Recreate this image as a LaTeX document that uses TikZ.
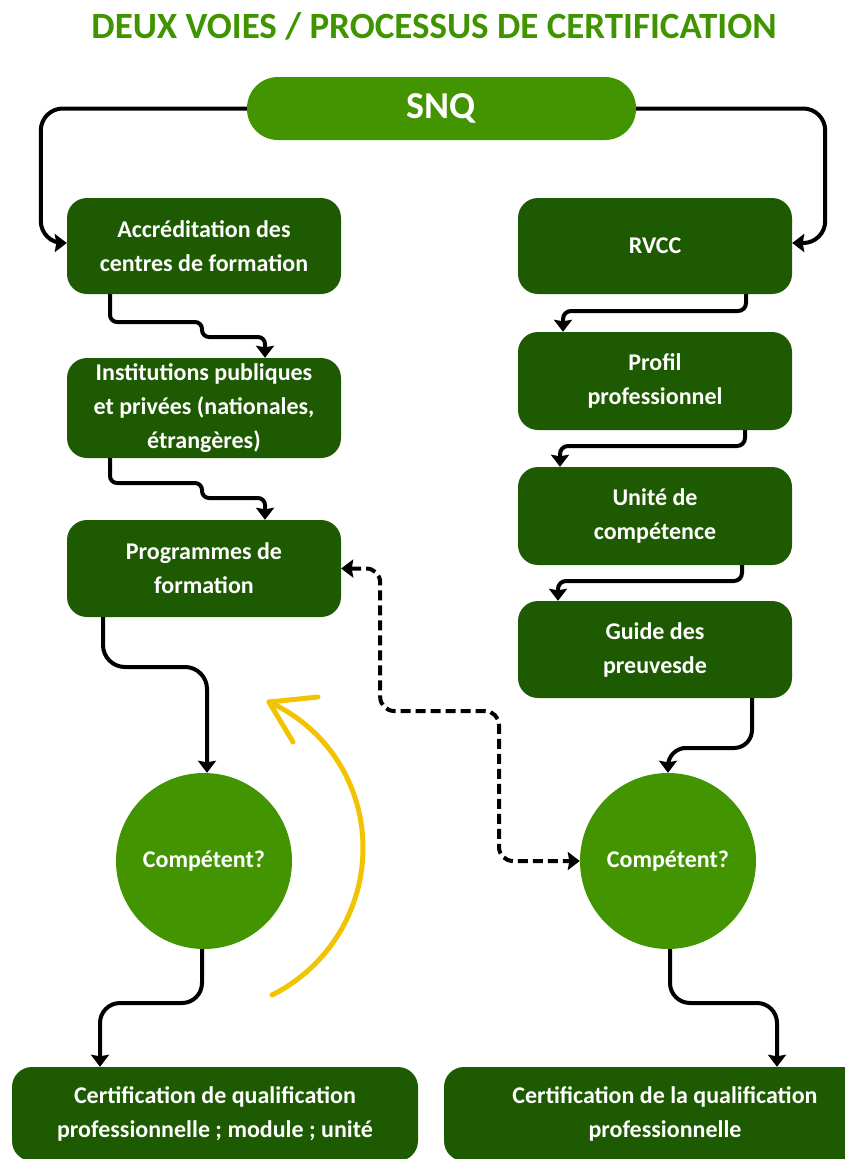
\documentclass[tikz,border=0pt]{standalone}
\usepackage{fontspec}
\setmainfont{Carlito}
\usetikzlibrary{arrows.meta}
\definecolor{titlegreen}{HTML}{3F9400}
\definecolor{lightg}{HTML}{429400}
\definecolor{darkg}{HTML}{1E5A02}
\definecolor{gold}{HTML}{F2C300}
\tikzset{
  box/.style={draw=none, fill=darkg, rounded corners=20pt, text=white, inner sep=0pt,
    font=\bfseries\fontsize{24}{34}\selectfont, align=center, minimum width=274pt},
  circ/.style={circle, draw=none, fill=lightg, text=white, inner sep=0pt, minimum size=176pt,
    font=\bfseries\fontsize{24}{34}\selectfont},
  conn/.style={draw=black, line width=4pt, -{Stealth[length=12pt,width=18pt,inset=1.5pt]}},
  dconn/.style={draw=black, line width=4pt, dash pattern=on 10pt off 5pt, rounded corners=14pt,
    {Stealth[length=12pt,width=18pt,inset=1.5pt]}-{Stealth[length=12pt,width=18pt,inset=1.5pt]}},
  yarc/.style={draw=gold, line width=5pt, line cap=round, line join=round},
}
\begin{document}
\begin{tikzpicture}[x=1pt,y=-1pt]
\useasboundingbox (0,0) rectangle (845,1159);
\clip (0,0) rectangle (845,1159);

\node[font=\bfseries\fontsize{37}{44}\selectfont, text=titlegreen, anchor=base] (title) at (434,38) {DEUX VOIES / PROCESSUS DE CERTIFICATION};

\node[fill=lightg, rounded corners=31pt, minimum width=389pt, minimum height=63pt, inner sep=0pt,
  text=white, font=\bfseries\fontsize{38}{44}\selectfont] (snq) at (441.5,108.5) {SNQ};

\node[box, minimum height=96pt] (acc) at (204,246) {Accréditation des\\centres de formation};
\node[box, minimum height=100pt] (inst) at (204,408) {Institutions publiques\\et privées (nationales,\\étrangères)};
\node[box, minimum height=97pt] (prog) at (204,568.5) {Programmes de\\formation};

\node[box, minimum height=96pt] (rvcc) at (655,246) {RVCC};
\node[box, minimum height=98pt] (prof) at (655,381) {Profil\\professionnel};
\node[box, minimum height=98pt] (unite) at (655,516) {Unité de\\compétence};
\node[box, minimum height=97pt] (guide) at (655,649.5) {Guide des\\preuvesde};

\node[circ] (c1) at (204,861) {Compétent?};
\node[circ] (c2) at (668,861) {Compétent?};

\node[box, minimum width=406pt, minimum height=94pt] (cert1) at (215,1114) {Certification de qualification\\professionnelle ; module ; unité};
\node[box, minimum width=442pt, minimum height=94pt] (cert2) at (665,1114) {Certification de la qualification\\professionnelle};

% SNQ branches
\draw[conn, rounded corners=22pt] (snq.west) -- ++(-206,0) |- ([yshift=3pt]acc.west);
\draw[conn, rounded corners=22pt] (snq.east) -- ++(189,0) |- ([yshift=3pt]rvcc.east);

% left column
\draw[conn, rounded corners=7pt] ([xshift=-94pt]acc.south) |- (202,322) -- (202,337) -| ([xshift=61pt]inst.north);
\draw[conn, rounded corners=7pt] ([xshift=-94pt]inst.south) |- (202,483) -- (202,498) -| ([xshift=61pt]prog.north);
\draw[conn, rounded corners=22pt] ([xshift=-101pt]prog.south) |- (160,667) -| ([xshift=3pt]c1.north);
\draw[conn, rounded corners=20pt] ([xshift=-2pt]c1.south) |- (150,1003) -| ([xshift=-115pt]cert1.north);

% right column
\draw[conn, rounded corners=8pt] ([xshift=91pt]rvcc.south) |- (650,311) -| ([xshift=-92pt]prof.north);
\draw[conn, rounded corners=8pt] ([xshift=90pt]prof.south) |- (650,446) -| ([xshift=-95pt]unite.north);
\draw[conn, rounded corners=8pt] ([xshift=87pt]unite.south) |- (650,581) -| ([xshift=-97pt]guide.north);
\draw[conn, rounded corners=18pt] ([xshift=97pt]guide.south) |- (700,748) -| (c2.north);
\draw[conn, rounded corners=20pt] ([xshift=2pt]c2.south) |- (720,1003) -| ([xshift=112pt]cert2.north);

% dashed link
\draw[dconn] (prog.east) -- ++(39,0) |- (499,711) |- (c2.west);

% yellow loop arrow
\coordinate (ya) at (272,995);
\coordinate (ym) at (363,848);
\coordinate (yb) at (269,702);
\draw[yarc] (ya) .. controls (327.7,967.2) and (363,910.3) .. (ym)
  .. controls (363,785.3) and (327.3,728.1) .. (yb);
\draw[yarc] (318,697) -- (yb) -- (293,742);
\end{tikzpicture}
\end{document}
